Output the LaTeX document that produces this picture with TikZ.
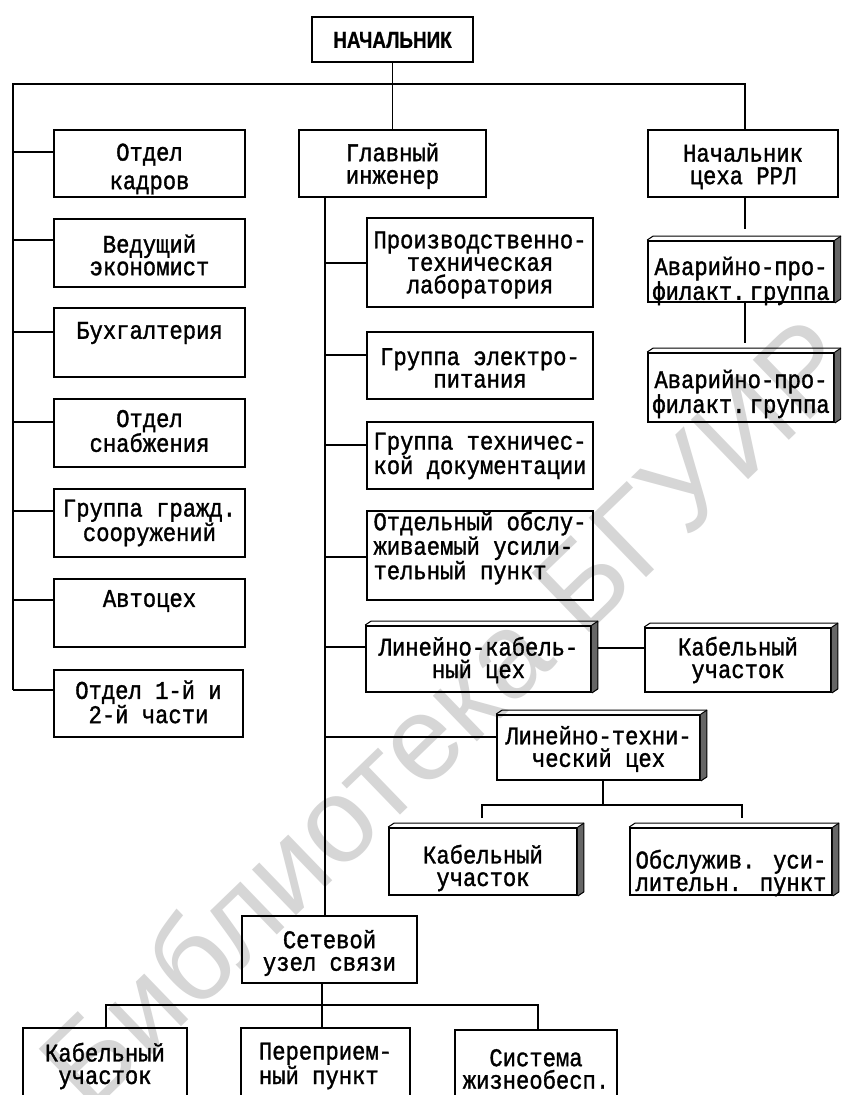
\documentclass[tikz,border=0pt]{standalone}
\usepackage{fontspec}
\setmainfont{Liberation Serif}
\newfontfamily\tw[FakeStretch=0.87,FakeBold=1.3]{Liberation Mono}
\newfontfamily\hd[FakeBold=1]{Liberation Sans}
\newfontfamily\wmfont{Liberation Sans}

\tikzset{
  box/.style={draw, line width=1.8pt, inner sep=0pt},
  lbl/.style={font=\tw\fontsize{25.5}{22.5}\selectfont, align=center, inner sep=0pt},
  wire/.style={line width=1.8pt},
  face/.style={line width=1pt, line join=round},
  sideface/.style={fill=black!60},
  wmark/.style={font=\wmfont\fontsize{120}{120}\selectfont, text=black!16, rotate=44, inner sep=0pt}
}

% plain box: name, x1, y1, x2, y2, text y, text style, text
\newcommand\plainbox[8]{%
  \node[box, minimum width={(#4-#2)*1pt}, minimum height={(#5-#3)*1pt}] (#1) at ({(#2+#4)/2},{(#3+#5)/2}) {};
  \node[lbl,#7] (#1-t) at ({(#2+#4)/2},#6) {#8};}

% box drawn as a slab with a top and a right face
\newcommand\slabbox[8]{%
  \node[box, minimum width={(#4-#2)*1pt}, minimum height={(#5-#3)*1pt}] (#1) at ({(#2+#4)/2},{(#3+#5)/2}) {};
  \fill[sideface] (#1.north east) -- ++(6,-4) -- ([shift={(6,-4)}]#1.south east) -- (#1.south east) -- cycle;
  \draw[face] (#1.north west) -- ++(6,-4) -- ([shift={(6,-4)}]#1.north east) -- ([shift={(6,-4)}]#1.south east) -- (#1.south east);
  \draw[face] (#1.north east) -- ++(6,-4);
  \node[lbl,#7] (#1-t) at ({(#2+#4)/2},#6) {#8};}

\begin{document}
\begin{tikzpicture}[x=1pt,y=-1pt]
\useasboundingbox (0,0) rectangle (841,1095);
\clip (0,0) rectangle (841,1095);
\fill[white] (0,0) rectangle (841,1095);

% library stamp across the sheet
\node[wmark] (stamp) at (445,712) {Библиотека БГУИР};

% head
\node[box, minimum width=161pt, minimum height=45pt] (boss) at (392.5,39.5) {};
\node[font=\hd\bfseries\fontsize{23}{23}\selectfont, inner sep=0pt] (boss-t) at (392.5,40) {\scalebox{0.82}[1]{НАЧАЛЬНИК}};

% left column
\plainbox{kadry}{54}{130}{245}{197}{169}{}{Отдел\\[6pt]кадров}
\plainbox{ekon}{54}{219}{245}{287}{255}{}{Ведущий\\экономист}
\plainbox{buh}{54}{308}{245}{377}{333}{}{Бухгалтерия}
\plainbox{snab}{54}{399}{245}{467}{431}{}{Отдел\\снабжения}
\plainbox{grazhd}{54}{489}{245}{557}{523}{}{Группа гражд.\\сооружений}
\plainbox{avto}{54}{579}{245}{647}{601}{}{Автоцех}
\plainbox{otd}{54}{670}{243}{737}{702}{}{Отдел 1-й и\\2-й части}

% chief engineer and his column
\plainbox{glav}{299}{130}{486}{197}{166}{}{Главный\\инженер}
\plainbox{lab}{367}{218}{593}{307}{265}{}{Производственно-\\техническая\\лаборатория}
\plainbox{elek}{367}{332}{593}{399}{368}{}{Группа электро-\\питания}
\plainbox{doc}{367}{422}{593}{489}{456}{align=left}{Группа техничес-\\кой документации}
\plainbox{oup}{367}{511}{593}{600}{548}{align=left}{Отдельный обслу-\\живаемый усили-\\тельный пункт}
\slabbox{lkc}{366}{626}{591}{692}{660}{}{Линейно-кабель-\\ный цех}
\slabbox{kab1}{645}{628}{831}{692}{660}{}{Кабельный\\участок}
\slabbox{ltc}{497}{715}{700}{780}{749}{}{Линейно-техни-\\ческий цех}
\slabbox{kab2}{389}{828}{577}{895}{868}{}{Кабельный\\участок}
\slabbox{obsl}{630}{828}{832}{895}{873}{align=left}{Обслужив. уси-\\лительн. пункт}

% radio relay workshop
\plainbox{rrl}{648}{130}{838}{197}{167}{}{Начальник\\цеха РРЛ}
\slabbox{avar1}{648}{241}{834}{302}{281}{}{Аварийно-про-\\филакт.\,группа}
\slabbox{avar2}{648}{353}{834}{422}{394}{}{Аварийно-про-\\филакт.\,группа}

% network node and its units
\plainbox{setev}{242}{916}{417}{983}{953}{}{Сетевой\\узел связи}
\plainbox{kab3}{23}{1028}{187}{1120}{1066}{}{Кабельный\\участок}
\plainbox{perep}{241}{1028}{410}{1120}{1066}{align=left}{Переприем-\\ный пункт}
\plainbox{sist}{455}{1030}{617}{1120}{1069}{}{Система\\жизнеобесп.}

% connectors: top level
\coordinate (busL) at (13,84);
\coordinate (busR) at (745,84);
\coordinate (busLb) at (13,690);
\draw[wire] (boss) -- (glav);
\draw[wire] (busLb) -- (busL) -- (busR) -- (busR |- rrl.north);
\draw[wire] (busLb) -- (busLb -| otd.west);
\foreach \n/\yy in {kadry/152, ekon/240, buh/332, snab/422, grazhd/511, avto/600}
  \draw[wire] (busL |- 0,\yy) -- (\n.west |- 0,\yy);

% chief engineer's line
\coordinate (cb) at (325,197);
\draw[wire] (cb) -- (cb |- setev.north);
\foreach \n/\yy in {lab/263, elek/355, doc/445, oup/557, lkc/647, ltc/737}
  \draw[wire] (cb |- 0,\yy) -- (\n.west |- 0,\yy);
\draw[wire] ([xshift=6pt]lkc.east |- 0,648) -- (kab1.west |- 0,648);

% linear-technical workshop
\coordinate (ltcJ) at (603,805);
\coordinate (ltcL) at (482,805);
\coordinate (ltcR) at (742,805);
\draw[wire] (ltc.south -| ltcJ) -- (ltcJ);
\draw[wire] (ltcL |- 0,818) -- (ltcL) -- (ltcR) -- (ltcR |- 0,818);

% radio relay chain
\draw[wire] (rrl.south -| busR) -- (busR |- 0,229);
\draw[wire] (busR |- avar1.south) -- (busR |- 0,343);

% network node
\coordinate (snJ) at (322,1005);
\coordinate (snL) at (106,1005);
\coordinate (snR) at (538,1005);
\draw[wire] (setev.south -| snJ) -- (snJ |- perep.north);
\draw[wire] (snL |- kab3.north) -- (snL) -- (snR) -- (snR |- sist.north);
\end{tikzpicture}
\end{document}
